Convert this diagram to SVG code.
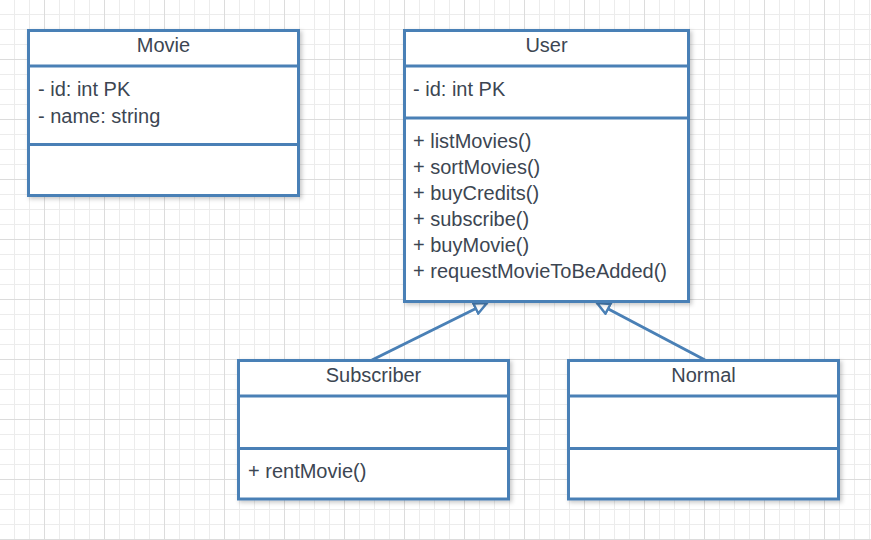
<svg xmlns="http://www.w3.org/2000/svg" width="871" height="540" viewBox="0 0 871 540">
<defs>
<pattern id="minor" patternUnits="userSpaceOnUse" width="15" height="15">
<rect x="14" y="0" width="1" height="15" fill="#ececec"/>
<rect x="0" y="14" width="15" height="1" fill="#ececec"/>
</pattern>
<pattern id="major" patternUnits="userSpaceOnUse" width="60" height="60">
<rect x="44" y="0" width="1" height="60" fill="#dcdcdc"/>
<rect x="0" y="59" width="60" height="1" fill="#dcdcdc"/>
</pattern>
<filter id="sh" x="-10%" y="-10%" width="130%" height="130%">
<feDropShadow dx="2" dy="2" stdDeviation="2" flood-color="#000" flood-opacity="0.22"/>
</filter>
<marker id="tri" markerUnits="userSpaceOnUse" markerWidth="16" markerHeight="14" refX="14" refY="7" orient="auto">
<path d="M1.5,1.5 L14,7 L1.5,12.5 Z" fill="#fff" stroke="#4a80b6" stroke-width="2.5" stroke-linejoin="miter"/>
</marker>
</defs>
<style>
.box{fill:#fff;stroke:#4a80b6;stroke-width:3;filter:url(#sh)}
.div{stroke:#4a80b6;stroke-width:3}
text{font-family:"Liberation Sans",Arial,sans-serif;font-size:20px;fill:#3c4652}
.t{text-anchor:middle}
.conn{stroke:#4a80b6;stroke-width:3;fill:none}
</style>
<rect width="871" height="540" fill="#fff"/>
<rect width="871" height="540" fill="url(#minor)"/>
<rect width="871" height="540" fill="url(#major)"/>

<g id="connectors">
<line class="conn" x1="372" y1="360" x2="487" y2="303" marker-end="url(#tri)"/>
<line class="conn" x1="705" y1="360" x2="597" y2="303" marker-end="url(#tri)"/>
</g>

<g id="movie">
<rect class="box" x="28.5" y="30.5" width="270" height="165"/>
<line class="div" x1="28.5" y1="66" x2="298.5" y2="66"/>
<line class="div" x1="28.5" y1="144.5" x2="298.5" y2="144.5"/>
<text class="t" x="163.5" y="52">Movie</text>
<text x="38" y="96">- id: int PK</text>
<text x="38" y="123">- name: string</text>
</g>

<g id="user">
<rect class="box" x="404.5" y="30.5" width="284" height="271"/>
<line class="div" x1="404.5" y1="66" x2="688.5" y2="66"/>
<line class="div" x1="404.5" y1="118" x2="688.5" y2="118"/>
<text class="t" x="546.5" y="52">User</text>
<text x="413" y="96">- id: int PK</text>
<text x="413" y="148">+ listMovies()</text>
<text x="413" y="174">+ sortMovies()</text>
<text x="413" y="200">+ buyCredits()</text>
<text x="413" y="226">+ subscribe()</text>
<text x="413" y="252">+ buyMovie()</text>
<text x="413" y="278">+ requestMovieToBeAdded()</text>
</g>

<g id="subscriber">
<rect class="box" x="238.5" y="360.5" width="270" height="138.5"/>
<line class="div" x1="238.5" y1="396" x2="508.5" y2="396"/>
<line class="div" x1="238.5" y1="448.5" x2="508.5" y2="448.5"/>
<text class="t" x="373.5" y="382">Subscriber</text>
<text x="248" y="478">+ rentMovie()</text>
</g>

<g id="normal">
<rect class="box" x="568.5" y="360.5" width="270" height="138.5"/>
<line class="div" x1="568.5" y1="396" x2="838.5" y2="396"/>
<line class="div" x1="568.5" y1="448.5" x2="838.5" y2="448.5"/>
<text class="t" x="703.5" y="382">Normal</text>
</g>
</svg>
